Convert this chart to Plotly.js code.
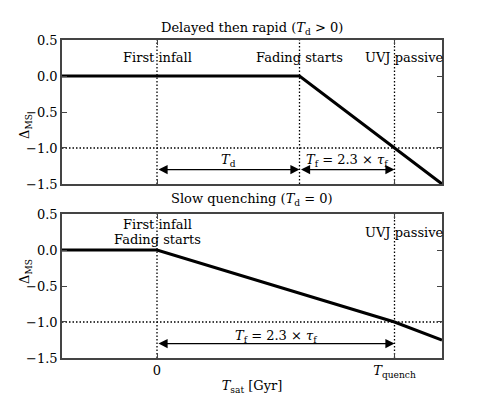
<!DOCTYPE html>
<html>
<head>
<meta charset="utf-8">
<script src="https://cdn.plot.ly/plotly-3.0.1.min.js"></script>
<style>
  html, body { margin: 0; padding: 0; background: #fff; }
  #chart { width: 491px; height: 399px; }
</style>
</head>
<body>
<div id="chart"></div>
<script>
// Two-panel schematic: delayed-then-rapid vs slow quenching of Delta_MS

const X_TOP = [-0.4, 0.6, 1.2];
const Y_TOP = [0, 0, -1.5];
const X_BOT = [-0.4, 0, 1.0, 1.2];
const Y_BOT = [0, 0, -1.0, -1.25];

const VLINES_TOP = [0, 0.6, 1.0];
const VLINES_BOT = [0, 1.0];
const PASSIVE_LEVEL = -1.0;

const Y_TICKS = [-1.5, -1.0, -0.5, 0.0, 0.5];
const Y_TICKTEXT = ['\u22121.5', '\u22121.0', '\u22120.5', '0.0', '0.5'];
const X_TICKS = [0, 1.0];
const X_TICKTEXT = ['0', '<i>T</i><sub>quench</sub>'];

// [x, y, text] for the event labels
const LABELS_TOP = [
  [0, 0.26, 'First infall'],
  [0.6, 0.26, 'Fading starts'],
  [1.04, 0.26, 'UVJ passive'],
];
const LABELS_BOT = [
  [0, 0.36, 'First infall'],
  [0, 0.15, 'Fading starts'],
  [1.04, 0.25, 'UVJ passive'],
];

// [x0, x1, y] for double arrows, and the labels above them
const ARROWS_TOP = [[0, 0.6, -1.3], [0.6, 1.0, -1.3]];
const ARROWS_BOT = [[0, 1.0, -1.3]];
const SPAN_TOP = [
  [0.3, -1.18, '<i>T</i><sub>d</sub>'],
  [0.8, -1.18, '<i>T</i><sub>f</sub> = 2.3 \u00d7 <i>\u03c4</i><sub>f</sub>'],
];
const SPAN_BOT = [
  [0.5, -1.2, '<i>T</i><sub>f</sub> = 2.3 \u00d7 <i>\u03c4</i><sub>f</sub>'],
];

const FONT = { family: 'DejaVu Serif', size: 13, color: '#000' };
const FRAME = '#444';

const traces = [
  { x: X_TOP, y: Y_TOP, xaxis: 'x', yaxis: 'y', mode: 'lines',
    line: { color: '#000', width: 3 }, hoverinfo: 'skip' },
  { x: X_BOT, y: Y_BOT, xaxis: 'x2', yaxis: 'y2', mode: 'lines',
    line: { color: '#000', width: 3 }, hoverinfo: 'skip' },
];

const dotted = { color: '#000', width: 1.3, dash: '1.5px,2px' };
const shapes = [];
VLINES_TOP.forEach((v) => shapes.push({ type: 'line', xref: 'x', yref: 'y', x0: v, x1: v, y0: -1.5, y1: 0.5, line: dotted, layer: 'below' }));
VLINES_BOT.forEach((v) => shapes.push({ type: 'line', xref: 'x2', yref: 'y2', x0: v, x1: v, y0: -1.5, y1: 0.5, line: dotted, layer: 'below' }));
shapes.push({ type: 'line', xref: 'x', yref: 'y', x0: -0.4, x1: 1.2, y0: PASSIVE_LEVEL, y1: PASSIVE_LEVEL, line: dotted, layer: 'below' });
shapes.push({ type: 'line', xref: 'x2', yref: 'y2', x0: -0.4, x1: 1.2, y0: PASSIVE_LEVEL, y1: PASSIVE_LEVEL, line: dotted, layer: 'below' });

const annotations = [];
const textAnn = (xr, yr) => ([x, y, t]) => annotations.push({
  xref: xr, yref: yr, x, y, text: t, showarrow: false, font: FONT,
  xanchor: 'center', yanchor: 'middle',
});
LABELS_TOP.forEach(textAnn('x', 'y'));
LABELS_BOT.forEach(textAnn('x2', 'y2'));
SPAN_TOP.forEach(textAnn('x', 'y'));
SPAN_BOT.forEach(textAnn('x2', 'y2'));

const arrowAnn = (xr, yr) => ([x0, x1, y]) => annotations.push({
  xref: xr, yref: yr, x: x1, y, axref: xr, ayref: yr, ax: x0, ay: y,
  text: '', showarrow: true, arrowside: 'end+start', arrowhead: 2,
  arrowsize: 1.4, arrowwidth: 1.3, arrowcolor: '#000', standoff: 0, startstandoff: 0,
});
ARROWS_TOP.forEach(arrowAnn('x', 'y'));
ARROWS_BOT.forEach(arrowAnn('x2', 'y2'));

// panel titles and y labels
annotations.push({ xref: 'paper', yref: 'paper', x: 0.5, y: 1, yshift: 12, yanchor: 'middle',
  text: 'Delayed then rapid (<i>T</i><sub>d</sub> > 0)', showarrow: false, font: FONT });
annotations.push({ xref: 'paper', yref: 'paper', x: 0.5, y: 0.4528, yshift: 15, yanchor: 'middle',
  text: 'Slow quenching (<i>T</i><sub>d</sub> = 0)', showarrow: false, font: FONT });
[0.7736, 0.2264].forEach((yy) => annotations.push({
  xref: 'paper', yref: 'paper', x: 0, xshift: -47, y: yy, textangle: -90,
  text: '\u0394<sub>MS</sub>', showarrow: false, font: FONT,
}));

const yax = {
  range: [-1.5, 0.5], tickvals: Y_TICKS, ticktext: Y_TICKTEXT,
  ticks: 'inside', ticklen: 5, tickcolor: FRAME, mirror: 'allticks',
  showline: true, linecolor: FRAME, linewidth: 1.8,
  showgrid: false, zeroline: false, tickfont: FONT,
};
const xax = {
  range: [-0.4, 1.2], tickvals: X_TICKS,
  ticks: 'inside', ticklen: 5, tickcolor: FRAME, mirror: 'allticks',
  showline: true, linecolor: FRAME, linewidth: 1.8,
  showgrid: false, zeroline: false, tickfont: FONT,
};

const layout = {
  width: 491, height: 399,
  margin: { l: 62, r: 49, t: 40, b: 41 },
  paper_bgcolor: '#fff', plot_bgcolor: '#fff',
  showlegend: false, font: FONT,
  xaxis: { ...xax, domain: [0, 1], anchor: 'y', ticktext: ['', ''] },
  yaxis: { ...yax, domain: [0.5472, 1], anchor: 'x' },
  xaxis2: { ...xax, domain: [0, 1], anchor: 'y2', ticktext: X_TICKTEXT,
    title: { text: '<i>T</i><sub>sat</sub> [Gyr]', font: FONT, standoff: 2 } },
  yaxis2: { ...yax, domain: [0, 0.4528], anchor: 'x2' },
  shapes, annotations,
};

Plotly.newPlot('chart', traces, layout, { displayModeBar: false, staticPlot: true });
</script>
</body>
</html>
